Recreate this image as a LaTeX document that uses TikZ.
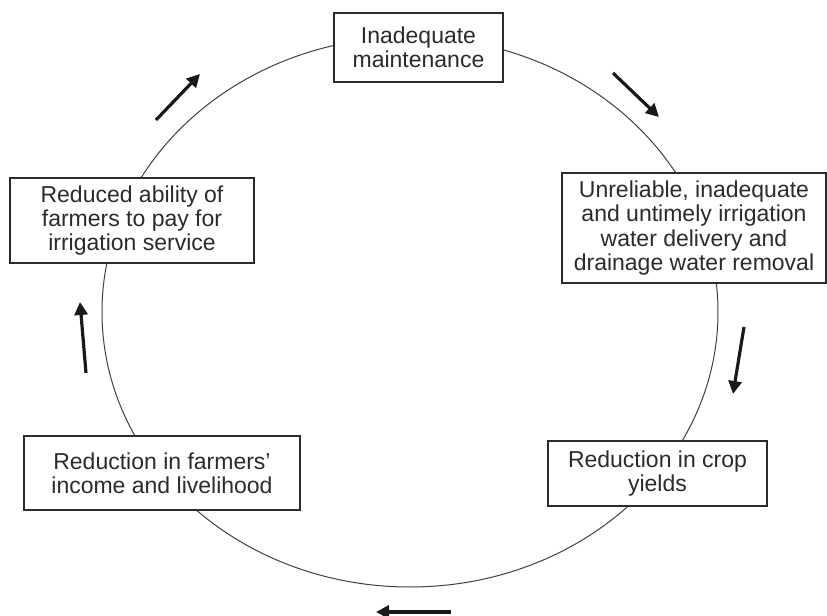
\documentclass[tikz,border=0pt]{standalone}
\usepackage{fontspec}
\setmainfont{Liberation Sans}
\usetikzlibrary{arrows.meta}
\definecolor{inkgray}{HTML}{2B2B2B}
\tikzset{
	stagebox/.style={draw=inkgray,line width=0.9pt,fill=white,align=center,inner sep=0pt,
		font=\fontsize{11.5}{12.2}\selectfont,text=inkgray},
	flow/.style={line width=1.6pt,-{Triangle[length=6.5pt,width=6.5pt]},draw=black!90}
}
\begin{document}
\begin{tikzpicture}[x=0.5pt,y=-0.5pt]
		\useasboundingbox (0,0) rectangle (827,616);
		\draw[line width=0.5pt,draw=black!75] (410,312) ellipse [x radius=308, y radius=275];
		\node[stagebox,minimum width=84.5pt,minimum height=34.5pt] (maint) at (418.5,47.5) {Inadequate\\maintenance};
		\node[stagebox,minimum width=132pt,minimum height=55pt] (supply) at (694,228) {Unreliable, inadequate\\and untimely irrigation\\water delivery and\\drainage water removal};
		\node[stagebox,minimum width=109.5pt,minimum height=32.5pt] (yield) at (657.5,473.5) {Reduction in crop\\yields};
		\node[stagebox,minimum width=138pt,minimum height=37pt] (income) at (162,473) {Reduction in farmers'\\income and livelihood};
		\node[stagebox,minimum width=122pt,minimum height=42.5pt] (pay) at (132,220.5) {Reduced ability of\\farmers to pay for\\irrigation service};
		\foreach \p/\q in {{(613,73)}/{(659,117)},{(744,327)}/{(733,394)},{(451,612)}/{(376,612)},{(86,373)}/{(80,302)},{(156,120)}/{(200,74)}}
			\draw[flow] \p -- \q;
\end{tikzpicture}
\end{document}
